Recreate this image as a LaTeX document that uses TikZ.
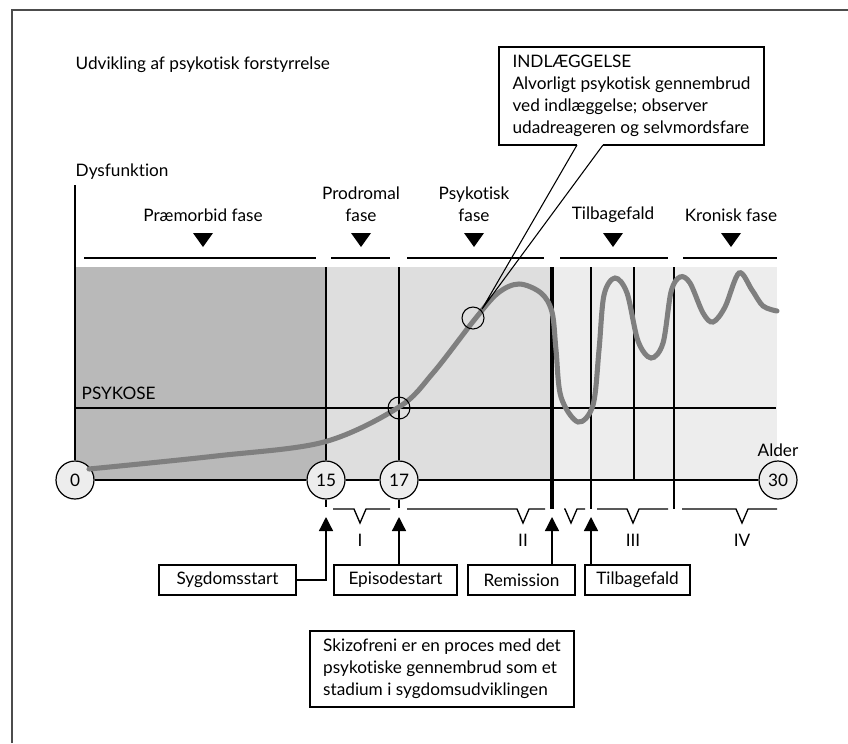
\documentclass[tikz,border=0pt]{standalone}
\usepackage{fontspec}
\setmainfont{Lato}[Ligatures=NoCommon]
\usetikzlibrary{arrows.meta}
\usetikzlibrary{shapes}
\usetikzlibrary{positioning}

\definecolor{premfill}{HTML}{B9B9B9}
\definecolor{prodfill}{HTML}{DEDEDE}
\definecolor{chronfill}{HTML}{EDEDED}
\definecolor{curvegray}{HTML}{7F7F7F}

\tikzset{
  agecircle/.style={circle, draw, line width=0.9pt, fill=chronfill, minimum size=28.5pt, inner sep=0pt},
  hitcircle/.style={circle, draw, line width=0.8pt, minimum size=16.5pt, inner sep=0pt},
  eventbox/.style={draw, line width=0.9pt, minimum height=22.5pt, inner sep=2pt},
  notebox/.style={draw, line width=0.9pt, align=left, inner sep=3pt},
  uparrow/.style={-{Triangle[length=10.5pt,width=10.5pt]}, line width=1pt},
}

\begin{document}
\begin{tikzpicture}[x=0.75pt,y=-0.75pt, font=\fontsize{12.9}{16.4}\selectfont]
		\useasboundingbox (0,0) rectangle (848,743);
		\draw[line width=1.4pt, black!70] (12,743) -- (12,10) -- (848,10);
		
		\node[anchor=west] (title) at (71,65) {Udvikling af psykotisk forstyrrelse};
		\node[anchor=west] (dysf) at (71,172) {Dysfunktion};
		
		% gray phases
		\fill[premfill] (75,267) rectangle (326,480);
		\fill[prodfill] (326,267) rectangle (552,480);
		\fill[chronfill] (552,267) rectangle (777,480);
		
		% phase headings
		\node (premorbid) at (203,215) {Præmorbid fase};
		\node[align=center] (prodromal) at (361,204) {Prodromal\\fase};
		\node[align=center] (psykotisk) at (474,204) {Psykotisk\\fase};
		\node (tilbage) at (613,215) {Tilbagefald};
		\node (kronisk) at (731,215) {Kronisk fase};
		\foreach \a/\t/\b in {84/203/316, 331/361/390, 407/474/544, 560/613/668, 683/731/777} {
			\draw[line width=1pt] (\a,258) -- (\b,258);
			\fill (\t-10,233) -- (\t+10,233) -- (\t,247) -- cycle;
		}
		
		% age axis
		\node[agecircle] (age0) at (75,480) {0};
		\node[agecircle] (age15) at (326,480) {15};
		\node[agecircle] (age17) at (399,480) {17};
		\node[agecircle] (age30) at (778,480) {30};
		\node (alder) at (778,450) {Alder};
		\coordinate (ytop) at (75,185);
		
		\draw[line width=1pt] (75,408) -- (776,408);
		\node[anchor=south west] (psykose) at (77,404) {PSYKOSE};
		
		\draw[line width=1.5pt] (age0) -- (age15) -- (age17) -- (age30);
		\draw[line width=1.1pt] (ytop) -- (age0);
		
		% markers
		\draw[line width=1.5pt] (326,267) -- (age15.north);
		\draw[line width=1.5pt] (age15.south) -- (326,507);
		\draw[line width=2.2pt] (399,267) -- (age17.north);
		\draw[line width=2.2pt] (age17.south) -- (399,508);
		\draw[line width=3.4pt] (552,267) -- (552,509);
		\draw[line width=1.1pt] (591,267) -- (591,509);
		\draw[line width=1.1pt] (634,267) -- (634,480);
		\draw[line width=1.1pt] (674,267) -- (674,509);
		
		% course of illness
		\draw[curvegray, line width=3.8pt, line cap=round] plot[smooth, tension=0.55] coordinates {
			(89,469) (216,456) (324,442) (399,407) (433,373) (475,319) (498,293)
			(519,284) (541,293) (552,312) (556,350) (561,397) (578,422) (593,405)
			(599,350) (604,295) (615,278) (627,293) (638,341) (651,358) (663,343)
			(671,292) (680,277) (690,283) (703,313) (713,322) (725,307) (739,273)
			(752,290) (763,306) (777,311)};
		
		\node[hitcircle] (hit17) at (399,408) {};
		\node[hitcircle] (hitpeak) at (473,318) {};
		
		% admission note with its pointer
		\node[notebox, minimum width=198.75pt, minimum height=73.5pt] (indl) at (631.5,96)
			{INDLÆGGELSE\\Alvorligt psykotisk gennembrud\\ved indlæggelse; observer\\udadreageren og selvmordsfare};
		\coordinate (pleft) at (577,145);
		\coordinate (pright) at (603,145);
		\coordinate (ptip) at (482,309);
		\draw[white, line width=1.6pt] (pleft) -- (pright);
		\draw[line width=0.8pt, line join=round] (pleft) -- (ptip) -- (pright);
		
		% brackets below the axis
		\foreach \a/\v/\b/\r in {333/360/390/I, 407/523/545/II, 564/571/585/{}, 597/633/668/III, 682/742/777/IV} {
			\draw[line width=1pt] (\a,509) -- (\v-6,509) -- (\v,523) -- (\v+6,509) -- (\b,509);
			\node (rom\v) at (\v,540) {\r};
		}
		
		% events
		\node[eventbox, minimum width=102.75pt] (sygdom) at (227.5,580) {Sygdomsstart};
		\node[eventbox, minimum width=92.25pt] (episode) at (395.5,580) {Episodestart};
		\node[eventbox, minimum width=80.25pt] (remis) at (521.5,580) {Remission};
		\node[eventbox, minimum width=78.75pt] (relapse) at (637.5,580) {Tilbagefald};
		\coordinate (t15) at (326,517);
		\coordinate (t17) at (399,517);
		\coordinate (tremis) at (552,517);
		\coordinate (trel) at (591,517);
		\draw[uparrow] (sygdom.east) -| (t15);
		\draw[uparrow] (episode.north -| t17) -- (t17);
		\draw[uparrow] (remis.north -| tremis) -- (tremis);
		\draw[uparrow] (relapse.north -| trel) -- (trel);
		
		\node[notebox, minimum width=198pt, minimum height=57pt] (summary) at (442,669)
			{Skizofreni er en proces med det\\psykotiske gennembrud som et\\stadium i sygdomsudviklingen};
\end{tikzpicture}
\end{document}
